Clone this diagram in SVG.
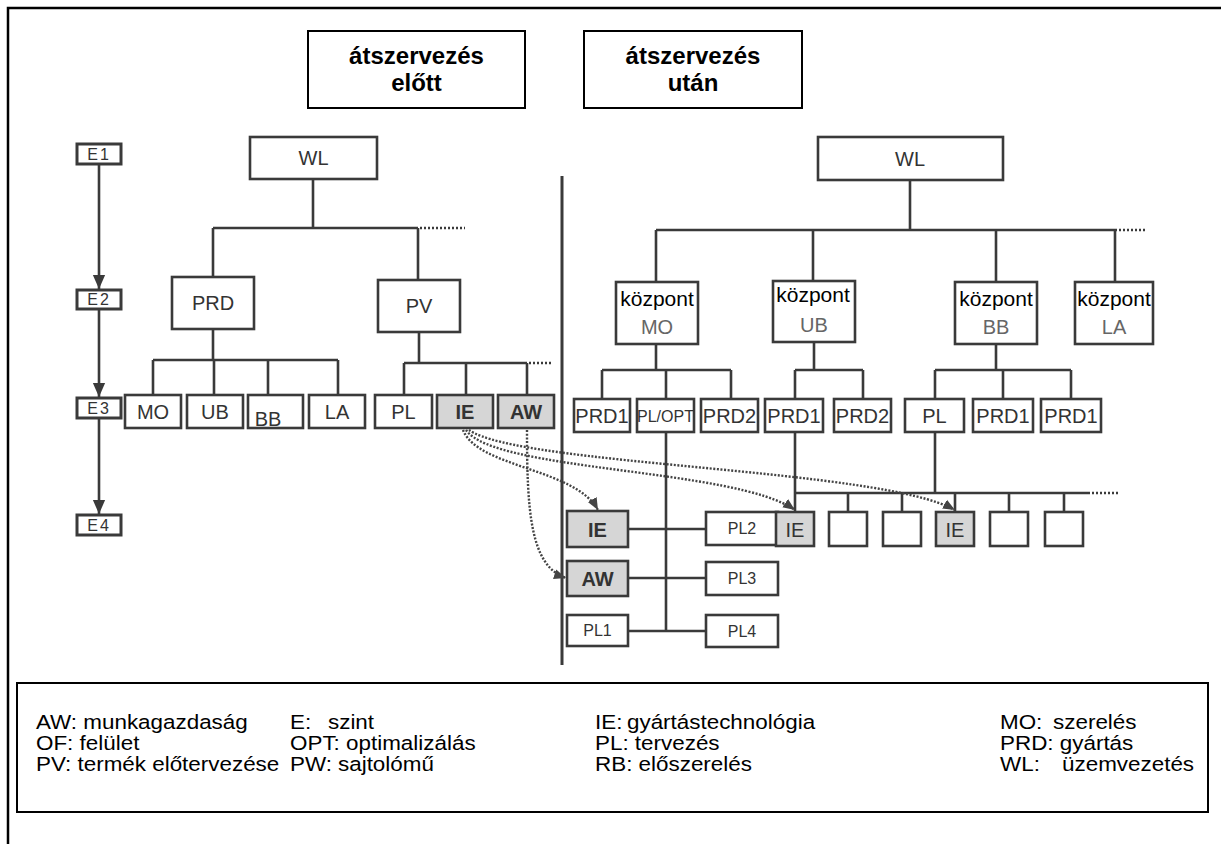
<svg xmlns="http://www.w3.org/2000/svg" width="1221" height="844" viewBox="0 0 1221 844">
<style>
.bx{fill:#fff;stroke:#3a3a3a;stroke-width:2.6}
.sh{fill:#d6d6d6;stroke:#3a3a3a;stroke-width:2.6}
.hb{fill:#fff;stroke:#000;stroke-width:2}
.ln{fill:none;stroke:#3a3a3a;stroke-width:2.6}
.dl{fill:none;stroke:#3a3a3a;stroke-width:2.6;stroke-dasharray:2 2}
.da{fill:none;stroke:#444;stroke-width:2.4;stroke-dasharray:2 1.6}
.t{font-family:"Liberation Sans Narrow","Liberation Sans",Arial,sans-serif;fill:#333;font-size:20px;text-anchor:middle}
.tg{font-family:"Liberation Sans Narrow","Liberation Sans",Arial,sans-serif;fill:#666;font-size:20px;text-anchor:middle}
.ts{font-family:"Liberation Sans Narrow","Liberation Sans",Arial,sans-serif;fill:#333;font-size:16px;text-anchor:middle}
.tb{font-weight:bold}
.kp{font-family:"Liberation Sans",Arial,sans-serif;fill:#000;font-size:21px;text-anchor:middle}
.hd{font-family:"Liberation Sans",Arial,sans-serif;fill:#000;font-size:24px;font-weight:bold;text-anchor:middle}
.lg{font-family:"Liberation Sans",Arial,sans-serif;fill:#000;font-size:19.5px}
</style>
<defs>
<marker id="big" markerUnits="userSpaceOnUse" markerWidth="14" markerHeight="18" refX="16" refY="7" orient="auto" viewBox="0 0 16 14"><path d="M0,0 L16,7 L0,14 z" fill="#3a3a3a"/></marker>
<marker id="sm" markerUnits="userSpaceOnUse" markerWidth="12" markerHeight="12" refX="12" refY="5" orient="auto" viewBox="0 0 12 10"><path d="M0,0 L12,5 L0,10 z" fill="#444"/></marker>
</defs>
<rect width="1221" height="844" fill="#fff"/>
<path d="M8,844 V8 H1221" fill="none" stroke="#000" stroke-width="2.5"/>

<g id="hdr-before"><rect class="hb" x="308" y="31" width="217" height="77"/><text class="hd" x="416.5" y="64">átszervezés</text><text class="hd" x="416.5" y="91">előtt</text></g>
<g id="hdr-after"><rect class="hb" x="584" y="31" width="218" height="77"/><text class="hd" x="693" y="64">átszervezés</text><text class="hd" x="693" y="91">után</text></g>

<g id="connectors">
<path class="ln" d="M99,164 V289" marker-end="url(#big)"/>
<path class="ln" d="M99,309 V397" marker-end="url(#big)"/>
<path class="ln" d="M99,418 V514" marker-end="url(#big)"/>
<path class="ln" d="M313,179 V228 M213,228 H418 M213,228 V277 M418,228 V280"/>
<path class="dl" d="M420,228 H465"/>
<path class="ln" d="M213,329 V360 M153,360 H338 M153,360 V395 M214,360 V395 M268,360 V395 M338,360 V395"/>
<path class="ln" d="M419,332 V363 M404,363 H527 M404,363 V395 M466,363 V395 M527,363 V395"/>
<path class="dl" d="M529,363 H553"/>
<path class="ln" d="M562,176 V665" style="stroke-width:3"/>
<path class="ln" d="M910,180 V230 M656,230 H1117 M656,230 V282 M813,230 V281 M996,230 V282 M1115,230 V282"/>
<path class="dl" d="M1119,230 H1147"/>
<path class="ln" d="M656,344 V370 M602,370 H731 M602,370 V399 M666,370 V399 M731,370 V399"/>
<path class="ln" d="M814,342 V370 M795,370 H863 M795,370 V399 M863,370 V399"/>
<path class="ln" d="M996,344 V370 M935,370 H1071 M935,370 V399 M1003,370 V399 M1071,370 V399"/>
<path class="ln" d="M666,432 V631 M628,529 H706 M628,578 H706 M628,631 H706"/>
<path class="ln" d="M795,432 V512 M935,432 V493 M795,493 H1090 M848,493 V512 M902,493 V512 M955,493 V512 M1009,493 V512 M1064,493 V512"/>
<path class="dl" d="M1092,493 H1120"/>
<path class="da" d="M463,430 C478,468 575,468 598,510" marker-end="url(#sm)"/>
<path class="da" d="M466,430 C495,472 735,468 795,510" marker-end="url(#sm)"/>
<path class="da" d="M469,430 C520,466 880,468 955,510" marker-end="url(#sm)"/>
<path class="da" d="M527,430 C527,510 530,566 566,578" marker-end="url(#sm)"/>
</g>

<g id="E1"><rect class="bx" x="77" y="144" width="44" height="20" style="stroke-width:3"/><text class="ts" x="99" y="160" letter-spacing="2">E1</text></g>
<g id="E2"><rect class="bx" x="77" y="290" width="44" height="19" style="stroke-width:3"/><text class="ts" x="99" y="305" letter-spacing="2">E2</text></g>
<g id="E3"><rect class="bx" x="77" y="398" width="44" height="20" style="stroke-width:3"/><text class="ts" x="99" y="414" letter-spacing="2">E3</text></g>
<g id="E4"><rect class="bx" x="77" y="515" width="44" height="20" style="stroke-width:3"/><text class="ts" x="99" y="531" letter-spacing="2">E4</text></g>

<g id="L-WL"><rect class="bx" x="250" y="137" width="127" height="42"/><text class="t" x="313.5" y="165">WL</text></g>
<g id="L-PRD"><rect class="bx" x="172" y="277" width="82" height="52"/><text class="t" x="213" y="310">PRD</text></g>
<g id="L-PV"><rect class="bx" x="378" y="280" width="82" height="52"/><text class="t" x="419" y="313">PV</text></g>
<g id="L-MO"><rect class="bx" x="125" y="395" width="56" height="33"/><text class="t" x="153" y="419">MO</text></g>
<g id="L-UB"><rect class="bx" x="187" y="395" width="56" height="33"/><text class="t" x="215" y="419">UB</text></g>
<g id="L-BB"><rect class="bx" x="248" y="395" width="55" height="33"/><text class="t" x="268" y="426">BB</text></g>
<g id="L-LA"><rect class="bx" x="309" y="395" width="56" height="33"/><text class="t" x="337" y="419">LA</text></g>
<g id="L-PL"><rect class="bx" x="375" y="395" width="57" height="33"/><text class="t" x="403.5" y="419">PL</text></g>
<g id="L-IE"><rect class="sh" x="437" y="395" width="56" height="33"/><text class="t tb" x="465" y="419">IE</text></g>
<g id="L-AW"><rect class="sh" x="498" y="395" width="56" height="33"/><text class="t tb" x="526" y="419">AW</text></g>

<g id="R-WL"><rect class="bx" x="818" y="137" width="185" height="43"/><text class="t" x="910" y="166">WL</text></g>
<g id="R-MO"><rect class="bx" x="616" y="282" width="82" height="62"/><text class="kp" x="657" y="306">központ</text><text class="tg" x="657" y="334">MO</text></g>
<g id="R-UB"><rect class="bx" x="773" y="281" width="82" height="61"/><text class="kp" x="813" y="302">központ</text><text class="tg" x="814" y="332">UB</text></g>
<g id="R-BB"><rect class="bx" x="955" y="282" width="82" height="62"/><text class="kp" x="996" y="306">központ</text><text class="tg" x="996" y="334">BB</text></g>
<g id="R-LA"><rect class="bx" x="1075" y="282" width="78" height="62"/><text class="kp" x="1114" y="306">központ</text><text class="tg" x="1114" y="334">LA</text></g>

<g id="R-PRD1a"><rect class="bx" x="574" y="399" width="56" height="33"/><text class="t" x="602" y="423">PRD1</text></g>
<g id="R-PLOPT"><rect class="bx" x="637" y="399" width="57" height="33"/><text class="ts" x="665.5" y="422">PL/OPT</text></g>
<g id="R-PRD2a"><rect class="bx" x="701" y="399" width="57" height="33"/><text class="t" x="729.5" y="423">PRD2</text></g>
<g id="R-PRD1b"><rect class="bx" x="765" y="399" width="58" height="33"/><text class="t" x="794" y="423">PRD1</text></g>
<g id="R-PRD2b"><rect class="bx" x="834" y="399" width="57" height="33"/><text class="t" x="862.5" y="423">PRD2</text></g>
<g id="R-PL"><rect class="bx" x="905" y="399" width="59" height="33"/><text class="t" x="934.5" y="423">PL</text></g>
<g id="R-PRD1c"><rect class="bx" x="973" y="399" width="60" height="33"/><text class="t" x="1003" y="423">PRD1</text></g>
<g id="R-PRD1d"><rect class="bx" x="1041" y="399" width="60" height="33"/><text class="t" x="1071" y="423">PRD1</text></g>

<g id="E4-IE"><rect class="sh" x="567" y="511" width="61" height="36"/><text class="t tb" x="597.5" y="537">IE</text></g>
<g id="E4-AW"><rect class="sh" x="567" y="561" width="61" height="35"/><text class="t tb" x="597.5" y="586">AW</text></g>
<g id="E4-PL1"><rect class="bx" x="567" y="615" width="61" height="31"/><text class="ts" x="597.5" y="636">PL1</text></g>
<g id="E4-PL2"><rect class="bx" x="706" y="512" width="72" height="33"/><text class="ts" x="742" y="534">PL2</text></g>
<g id="E4-PL3"><rect class="bx" x="706" y="562" width="72" height="33"/><text class="ts" x="742" y="584">PL3</text></g>
<g id="E4-PL4"><rect class="bx" x="706" y="615" width="72" height="32"/><text class="ts" x="742" y="637">PL4</text></g>
<g id="E4-IE2"><rect class="sh" x="776" y="512" width="38" height="34"/><text class="t" x="795" y="537">IE</text></g>
<g id="E4-b1"><rect class="bx" x="829" y="512" width="38" height="34"/></g>
<g id="E4-b2"><rect class="bx" x="883" y="512" width="38" height="34"/></g>
<g id="E4-IE3"><rect class="sh" x="936" y="512" width="38" height="34"/><text class="t" x="955" y="537">IE</text></g>
<g id="E4-b3"><rect class="bx" x="990" y="512" width="38" height="34"/></g>
<g id="E4-b4"><rect class="bx" x="1045" y="512" width="38" height="34"/></g>

<g id="legend">
<rect x="17" y="683" width="1191" height="129" fill="#fff" stroke="#000" stroke-width="2"/>
<g transform="scale(1.15,1)">
<text class="lg" x="31.3" y="729">AW: munkagazdaság</text>
<text class="lg" x="31.3" y="750">OF: felület</text>
<text class="lg" x="31.3" y="771">PV: termék előtervezése</text>
<text class="lg" x="252.2" y="729">E:<tspan x="285.2">szint</tspan></text>
<text class="lg" x="252.2" y="750">OPT: optimalizálás</text>
<text class="lg" x="252.2" y="771">PW:<tspan x="293.9">sajtolómű</tspan></text>
<text class="lg" x="517.4" y="729">IE:<tspan x="545.2">gyártástechnológia</tspan></text>
<text class="lg" x="517.4" y="750">PL: tervezés</text>
<text class="lg" x="517.4" y="771">RB: előszerelés</text>
<text class="lg" x="869.6" y="729">MO:<tspan x="915.7">szerelés</tspan></text>
<text class="lg" x="869.6" y="750">PRD: gyártás</text>
<text class="lg" x="869.6" y="771">WL:<tspan x="923.5">üzemvezetés</tspan></text>
</g>
</g>
</svg>
